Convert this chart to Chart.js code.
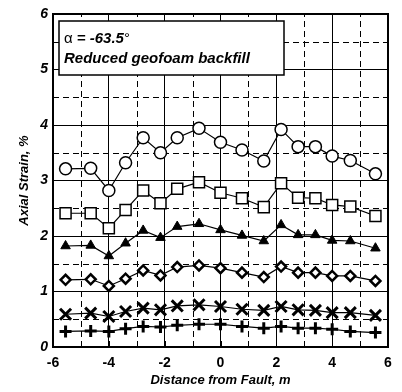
<!DOCTYPE html>
<html>
<head>
<meta charset="utf-8">
<script src="https://cdn.jsdelivr.net/npm/chart.js@4/dist/chart.umd.min.js"></script>
<style>
html,body{margin:0;padding:0;background:#fff;}
#wrap{width:402px;height:392px;position:relative;}
</style>
</head>
<body>
<div id="wrap"><canvas id="c" width="402" height="392"></canvas></div>
<script>
const distances = [-5.55, -4.65, -4.0, -3.4, -2.77, -2.15, -1.55, -0.77, 0, 0.77, 1.55, 2.17, 2.78, 3.4, 4.0, 4.65, 5.55];
const seriesCircle  = [3.21, 3.22, 2.82, 3.32, 3.77, 3.50, 3.77, 3.94, 3.69, 3.55, 3.35, 3.92, 3.61, 3.61, 3.44, 3.36, 3.12];
const seriesSquare  = [2.41, 2.41, 2.14, 2.47, 2.82, 2.59, 2.85, 2.97, 2.78, 2.68, 2.52, 2.95, 2.69, 2.68, 2.56, 2.53, 2.36];
const seriesTriangle= [1.82, 1.83, 1.64, 1.87, 2.10, 1.97, 2.17, 2.22, 2.11, 2.01, 1.91, 2.20, 2.02, 2.02, 1.92, 1.91, 1.78];
const seriesDiamond = [1.21, 1.22, 1.10, 1.23, 1.38, 1.29, 1.44, 1.47, 1.42, 1.34, 1.26, 1.45, 1.34, 1.34, 1.28, 1.28, 1.19];
const seriesX       = [0.59, 0.61, 0.55, 0.64, 0.70, 0.67, 0.74, 0.76, 0.73, 0.68, 0.66, 0.73, 0.67, 0.66, 0.62, 0.62, 0.57];
const seriesPlus    = [0.28, 0.29, 0.28, 0.33, 0.37, 0.36, 0.39, 0.41, 0.41, 0.37, 0.34, 0.37, 0.34, 0.34, 0.32, 0.28, 0.26];
const xTickLabels = ['-6','-4','-2','0','2','4','6'];
const yTickLabels = ['0','1','2','3','4','5','6'];
const annotationLine1 = ['\u03B1', ' = -63.5', '\u00B0'];
const annotationLine2 = 'Reduced geofoam backfill';

const FONT = "'Liberation Sans', Arial, Helvetica, sans-serif";

function pts(vals){ return distances.map((x,i)=>({x:x,y:vals[i]})); }
function ds(vals, style, radius, fill, bw){
  return {data: pts(vals), showLine:true, borderColor:'#000', borderWidth:1.2,
    pointStyle: style, pointRadius: radius, pointHoverRadius: radius,
    pointBackgroundColor: fill, pointBorderColor:'#000', pointBorderWidth: bw};
}

const decor = {
  id:'decor',
  beforeDatasetsDraw(chart){
    const {ctx, chartArea:a, scales:{x, y}} = chart;
    ctx.save();
    ctx.strokeStyle = '#000';
    ctx.lineWidth = 1;
    ctx.setLineDash([6,4]);
    for (let v = 0.5; v < 6; v += 1) {
      const py = Math.round(y.getPixelForValue(v)) + 0.5;
      ctx.beginPath(); ctx.moveTo(a.left, py); ctx.lineTo(a.right, py); ctx.stroke();
    }
    for (let v = -5; v <= 5; v += 2) {
      const px = Math.round(x.getPixelForValue(v)) + 0.5;
      ctx.beginPath(); ctx.moveTo(px, a.bottom); ctx.lineTo(px, a.top); ctx.stroke();
    }
    ctx.setLineDash([]);
    for (let v = -5; v <= 5; v += 1) {
      const px = Math.round(x.getPixelForValue(v)) + 0.5;
      ctx.beginPath(); ctx.moveTo(px, a.bottom); ctx.lineTo(px, a.bottom - 6); ctx.stroke();
    }
    ctx.restore();
  },
  afterDatasetsDraw(chart){
    const {ctx, chartArea:a} = chart;
    ctx.save();
    ctx.strokeStyle = '#000';
    ctx.lineWidth = 2;
    ctx.strokeRect(a.left, a.top, a.right - a.left, a.bottom - a.top);
    // annotation box
    const bx = a.left + 6, by = a.top + 7, bw = 225, bh = 54;
    ctx.fillStyle = '#fff';
    ctx.fillRect(bx, by, bw, bh);
    ctx.lineWidth = 1.5;
    ctx.strokeRect(bx, by, bw, bh);
    ctx.fillStyle = '#000';
    ctx.textBaseline = 'alphabetic';
    let tx = bx + 5, ty = by + 22;
    ctx.font = "15px " + FONT;
    ctx.fillText(annotationLine1[0], tx, ty); tx += ctx.measureText(annotationLine1[0]).width;
    ctx.font = "italic bold 15px " + FONT;
    ctx.fillText(annotationLine1[1], tx, ty); tx += ctx.measureText(annotationLine1[1]).width;
    ctx.font = "15px " + FONT;
    ctx.fillText(annotationLine1[2], tx, ty);
    ctx.font = "italic bold 15px " + FONT;
    ctx.fillText(annotationLine2, bx + 5, by + 42);
    ctx.restore();
  }
};

new Chart(document.getElementById('c'), {
  type:'scatter',
  data:{ datasets:[
    ds(seriesCircle, 'circle', 6, '#fff', 1.5),
    ds(seriesSquare, 'rect', 7.8, '#fff', 1.5),
    ds(seriesTriangle, 'triangle', 5.5, '#000', 1),
    ds(seriesDiamond, 'rectRot', 5, '#fff', 2.5),
    ds(seriesX, 'crossRot', 7.8, '#000', 3),
    ds(seriesPlus, 'cross', 6, '#000', 3)
  ]},
  options:{
    responsive:false, animation:false,
    layout:{padding:{top:14, right:14, left:0, bottom:0}},
    plugins:{legend:{display:false}, tooltip:{enabled:false}},
    scales:{
      x:{
        type:'linear', min:-6, max:6,
        afterFit(s){ s.height = 45; },
        ticks:{stepSize:1, autoSkip:false, maxRotation:0, padding:8, color:'#000',
          font:{family:FONT, size:14, weight:'bold'},
          callback:(v)=> (v % 2 === 0) ? xTickLabels[(v+6)/2] : ''},
        grid:{drawTicks:false, lineWidth:1,
          color:(c)=> (c.tick && c.tick.value % 2 === 0) ? '#000' : 'rgba(0,0,0,0)'},
        border:{color:'#000', width:2},
        title:{display:true, text:'Distance from Fault, m', color:'#000',
          font:{family:FONT, size:13, weight:'bold', style:'italic'}, padding:{top:0,bottom:4}}
      },
      y:{
        type:'linear', min:0, max:6,
        afterFit(s){ s.width = 53; },
        ticks:{stepSize:0.5, autoSkip:false, padding:5, color:'#000',
          font:{family:FONT, size:14, weight:'bold', style:'italic'},
          callback:(v)=> Number.isInteger(v) ? yTickLabels[v] : ''},
        grid:{drawTicks:false, lineWidth:1,
          color:(c)=> (c.tick && Number.isInteger(c.tick.value)) ? '#000' : 'rgba(0,0,0,0)'},
        border:{color:'#000', width:2},
        title:{display:true, text:'Axial Strain, %', color:'#000',
          font:{family:FONT, size:13, weight:'bold', style:'italic'}, padding:{top:17,bottom:0}}
      }
    }
  },
  plugins:[decor]
});
</script>
</body>
</html>
